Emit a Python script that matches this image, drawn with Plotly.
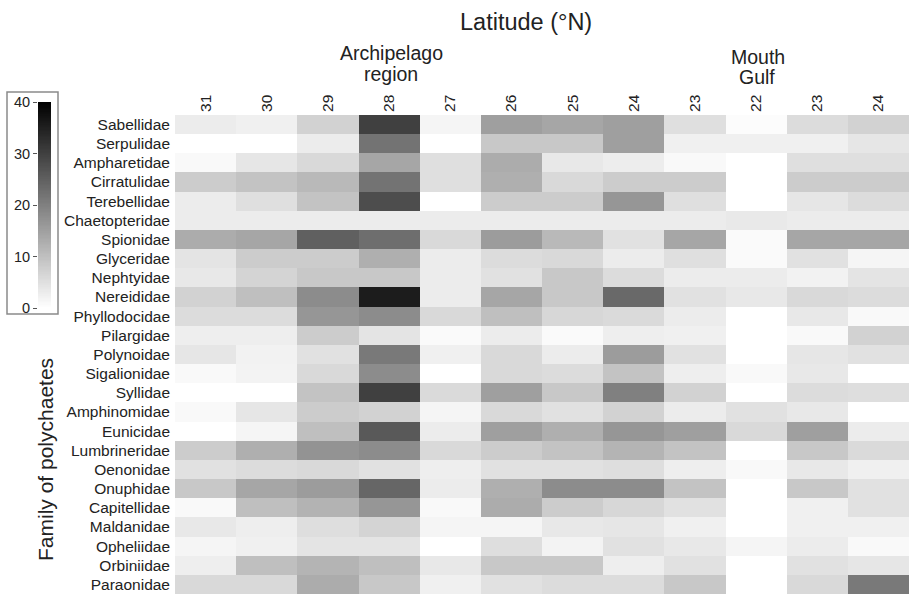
import plotly.graph_objects as go
import numpy as np

families = ["Sabellidae", "Serpulidae", "Ampharetidae", "Cirratulidae", "Terebellidae",
            "Chaetopteridae", "Spionidae", "Glyceridae", "Nephtyidae", "Nereididae",
            "Phyllodocidae", "Pilargidae", "Polynoidae", "Sigalionidae", "Syllidae",
            "Amphinomidae", "Eunicidae", "Lumbrineridae", "Oenonidae", "Onuphidae",
            "Capitellidae", "Maldanidae", "Opheliidae", "Orbiniidae", "Paraonidae"]
latitudes = ["31", "30", "29", "28", "27", "26", "25", "24", "23", "22", "23", "24"]

values = [
    [3, 2.3, 7, 30, 1.5, 15, 14, 15, 5, 0.5, 5.5, 7],
    [0, 0, 3, 22, 0, 8.6, 8.6, 15, 2.3, 2.3, 2.3, 4],
    [1, 4, 6, 14, 5, 13, 3.6, 2.8, 1, 0, 5, 5],
    [8, 9.4, 11, 22, 5, 12.5, 6, 8, 8, 0, 8, 8],
    [3, 5, 9.4, 28, 0, 8, 8, 16.4, 5, 0, 4, 5.5],
    [3, 3, 3, 3, 3, 3, 3, 3, 3, 3.5, 3, 3],
    [13, 14, 25, 22.7, 6, 15.6, 11, 4.7, 14, 0.8, 14, 14],
    [4.2, 8, 8, 12.5, 3, 5.5, 6, 3, 5, 0.8, 4.7, 1.5],
    [3.6, 6.7, 8.6, 8.6, 3, 4.7, 8.6, 5.5, 3, 3, 2, 4.2],
    [7, 10, 18, 35.6, 3, 14, 8.6, 23.5, 4.7, 3.6, 6, 5.5],
    [5.5, 5.5, 16.4, 18, 6, 10, 6.2, 5.8, 3, 0, 3.6, 1],
    [2.7, 2.7, 8, 4.2, 0.8, 3, 0.8, 2.7, 2.3, 0, 1, 7],
    [4, 2, 4.7, 21, 2.3, 6, 3, 15.6, 4.7, 0, 4, 4.7],
    [1, 1.9, 6, 18, 0, 6, 5.5, 9.4, 2.7, 1, 3.6, 0],
    [0, 0, 9.4, 30, 5.8, 15, 8.6, 20, 7, 0, 5.5, 5.2],
    [1, 4, 8, 7, 1.5, 6, 4.7, 7, 3, 4.7, 3.6, 0],
    [0, 1.5, 10, 26, 3, 15, 12.5, 16.4, 15, 6, 15, 3],
    [8, 12.5, 17, 18, 6, 8, 9.4, 11.7, 9.4, 0, 8.6, 5.8],
    [4.7, 5.5, 6, 4.7, 2.7, 4.7, 4.7, 5.2, 2.7, 1, 3.6, 2.3],
    [8.6, 14, 15.6, 24, 3, 12.5, 18, 18, 9.4, 0, 8.6, 4.7],
    [1, 10, 12, 16.4, 1, 13, 8, 6.2, 4.7, 0, 2.3, 4.7],
    [3.6, 2.7, 5.2, 6.7, 1.5, 1.5, 3.6, 4, 2.3, 0, 2.3, 2.3],
    [1.5, 2.3, 4.2, 4.2, 0, 5.2, 1.9, 4.7, 3.6, 1.5, 3, 1],
    [2.7, 10, 11.7, 10, 3.6, 8.6, 8.6, 2.7, 4.7, 0, 4.7, 4],
    [6, 6, 13, 8.6, 2.3, 4.7, 5.5, 5.5, 8.6, 0, 6, 21],
]
scale_ticks = [0, 10, 20, 30, 40]

W, H = 909, 594
FONT = "Liberation Sans, Arial, sans-serif"
TXT = "#222222"
gray_scale = [[0, "#ffffff"], [1, "#000000"]]

fig = go.Figure()
fig.add_trace(go.Heatmap(
    z=values, x=list(range(len(latitudes))), y=families,
    colorscale=gray_scale, zmin=0, zmax=40, showscale=False,
    xaxis="x", yaxis="y",
))

# legend gradient drawn as a tiny heatmap on its own axes
levels = np.linspace(scale_ticks[0], scale_ticks[-1], 161)
fig.add_trace(go.Heatmap(
    z=[[v] for v in levels], x=[0], y=levels,
    colorscale=gray_scale, zmin=0, zmax=40, showscale=False,
    xaxis="x2", yaxis="y2", hoverinfo="skip",
))

def px(x):
    return x / W

def py(y):
    return 1 - y / H

def label(text, x, y, size, angle=0):
    return dict(text=text, xref="paper", yref="paper", x=px(x), y=py(y),
                xanchor="center", yanchor="middle", showarrow=False,
                textangle=angle, font=dict(size=size, family=FONT, color=TXT))

fig.update_layout(
    width=W, height=H,
    margin=dict(l=0, r=0, t=0, b=0, pad=0, autoexpand=False),
    paper_bgcolor="white", plot_bgcolor="white",
    font=dict(family=FONT, color=TXT),
    xaxis=dict(domain=[px(175), 1.0], side="top", tickmode="array",
               tickvals=list(range(len(latitudes))), ticktext=latitudes,
               tickangle=-90, ticks="", showgrid=False, zeroline=False,
               showline=False, range=[-0.5, len(latitudes) - 0.5],
               automargin=False, ticklabelstandoff=2,
               tickfont=dict(size=15.5, family=FONT, color=TXT)),
    yaxis=dict(domain=[0, py(115)], autorange="reversed", ticks="",
               showgrid=False, zeroline=False, showline=False, automargin=False,
               ticklabelstandoff=4,
               tickfont=dict(size=15.5, family=FONT, color=TXT)),
    xaxis2=dict(domain=[px(38), px(51)], anchor="y2", showticklabels=False,
                showgrid=False, zeroline=False, showline=False, ticks="",
                range=[-0.5, 0.5], automargin=False),
    yaxis2=dict(domain=[py(308), py(102)], anchor="x2", range=[0, 40],
                tickvals=scale_ticks, ticks="outside", ticklen=4,
                tickcolor="#555555", showgrid=False, zeroline=False,
                showline=False, automargin=False,
                tickfont=dict(size=14.5, family=FONT, color=TXT)),
    shapes=[dict(type="rect", xref="paper", yref="paper",
                 x0=px(7), x1=px(58), y0=py(314), y1=py(92),
                 line=dict(color="#8a8a8a", width=1.5))],
    annotations=[
        label("Latitude (°N)", 526, 22, 23.5),
        label("Archipelago", 391, 53, 19.5),
        label("region", 391, 74, 19.5),
        label("Mouth", 758, 57, 19.5),
        label("Gulf", 757, 77, 19.5),
        label("Family of polychaetes", 45, 460, 21, -90),
    ],
)

fig.write_html("out.html", config={"displayModeBar": False},
               post_script="document.body.style.margin='0';document.body.style.overflow='hidden';")
